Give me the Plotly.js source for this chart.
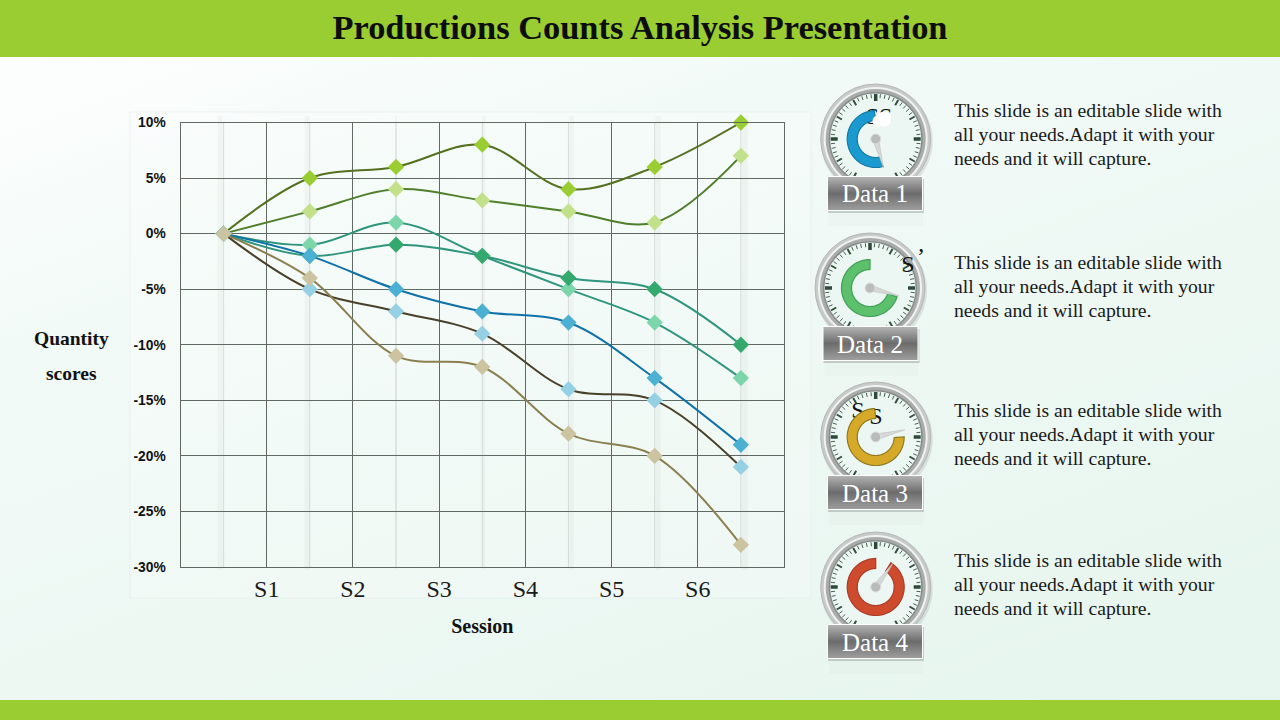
<!DOCTYPE html>
<html>
<head>
<meta charset="utf-8">
<script src="https://cdn.plot.ly/plotly-3.0.1.min.js"></script>
<style>
html,body{margin:0;padding:0;width:1280px;height:720px;overflow:hidden;background:linear-gradient(160deg,#ffffff 0%,#f2faf7 30%,#e6f5ee 100%);}
#chart{width:1280px;height:720px;}
</style>
</head>
<body>
<div id="chart"></div>
<script>
// ---- chart data ----
const sessionTicks = [1, 2, 3, 4, 5, 6];
const sessionLabels = ['S1', 'S2', 'S3', 'S4', 'S5', 'S6'];
const pointX = [0.5, 1.5, 2.5, 3.5, 4.5, 5.5, 6.5];
const yTicks = [10, 5, 0, -5, -10, -15, -20, -25, -30];
const yLabels = ['10%', '5%', '0%', '-5%', '-10%', '-15%', '-20%', '-25%', '-30%'];
const seriesA = [0, 5, 6, 8, 4, 6, 10];
const seriesB = [0, 2, 4, 3, 2, 1, 7];
const seriesC = [0, -1, 1, -2, -5, -8, -13];
const seriesD = [0, -2, -1, -2, -4, -5, -10];
const seriesE = [0, -2, -5, -7, -8, -13, -19];
const seriesF = [0, -5, -7, -9, -14, -15, -21];
const seriesG = [0, -4, -11, -12, -18, -20, -28];
const allSeries = [seriesA, seriesB, seriesC, seriesD, seriesE, seriesF, seriesG];
const lineColors = ['#55701f', '#4f7f2a', '#2f957c', '#2f957c', '#0f72a8', '#4a3f28', '#8c7f4f'];
const markerColors = ['#9acd32', '#c3e08a', '#7dd5aa', '#35a86e', '#4bb0d2', '#96d0e5', '#ccc3a0'];

// ---- dial data ----
const dialNames = ['Data 1', 'Data 2', 'Data 3', 'Data 4'];
const dialCx = [875.7, 870, 875.7, 875.7];
const dialCy = [139, 288, 437, 587];
const dialGapEnd = [165, 108, 90, 32];     // ring runs from here clockwise to the top
const needleAngle = [165, 105, 76, 36];
const ringFill = ['#1b9ad0', '#5dc06c', '#d6aa28', '#cf4b2d'];
const ringEdge = ['#127aa6', '#3f9f55', '#8f7a22', '#a83c28'];
const buttonX0 = [828, 823.5, 828, 828];
const buttonY0 = [177, 327, 476, 625];
const paragraphY = [110, 262, 410, 560];
const paragraphLines = ['This slide is an editable slide with', 'all your needs.Adapt it with your', 'needs and it will capture.'];
const serif = '"Liberation Serif", "DejaVu Serif", serif';

const px = x => x / 1280, py = y => 1 - y / 720;
const shapes = [];
function rect(x0, y0, x1, y1, fill, layer, line) {
  shapes.push({type: 'rect', xref: 'paper', yref: 'paper', x0: px(x0), x1: px(x1), y0: py(y0), y1: py(y1),
    fillcolor: fill, line: line || {width: 0}, layer: layer || 'below'});
}
function circle(cx, cy, r, fill, layer, line) {
  shapes.push({type: 'circle', xref: 'paper', yref: 'paper', x0: px(cx - r), x1: px(cx + r), y0: py(cy + r), y1: py(cy - r),
    fillcolor: fill, line: line || {width: 0}, layer: layer || 'below'});
}
function path(d, fill, line, layer) {
  shapes.push({type: 'path', xref: 'paper', yref: 'paper', path: d, fillcolor: fill, line: line, layer: layer || 'below'});
}
function polar(cx, cy, r, deg) {
  const a = deg * Math.PI / 180;
  return [px(cx + r * Math.sin(a)).toFixed(5), py(cy - r * Math.cos(a)).toFixed(5)].join(',');
}

// page furniture
rect(0, 0, 1280, 57, '#9acd32');
rect(0, 700, 1280, 720, '#9acd32');
rect(130, 112, 811, 598, 'rgba(255,255,255,0.22)', 'below', {color: 'rgba(225,232,228,0.45)', width: 1});

// soft vertical bands behind every point
const bandOffset = [[-0.07, -0.01], [-0.06, 0], [-0.01, 0.01], [0, 0.035], [0.01, 0.06], [0.01, 0.07], [0.01, 0.08]];
pointX.forEach((x, i) => {
  shapes.push({type: 'rect', xref: 'x', yref: 'paper', x0: x + bandOffset[i][0], x1: x + bandOffset[i][1],
    y0: py(570), y1: py(116), fillcolor: 'rgba(190,195,192,0.12)', line: {width: 0}, layer: 'below'});
  shapes.push({type: 'line', xref: 'x', yref: 'paper', x0: x, x1: x, y0: py(567), y1: py(122),
    line: {color: 'rgba(190,190,190,0.5)', width: 1}, layer: 'below'});
});

// dials
dialNames.forEach((name, i) => {
  const cx = dialCx[i], cy = dialCy[i];
  circle(cx + 1, cy + 2, 56, 'rgba(150,160,155,0.25)');
  circle(cx, cy, 55, '#c9cbca', 'below', {color: '#b5b7b6', width: 1});
  circle(cx, cy, 52, '#f1f2f2');
  circle(cx, cy, 50, '#a9acab');
  circle(cx, cy, 47, '#878b8a');
  circle(cx, cy, 45.5, '#ecf7f3');
  let minor = '', mid = '', major = '';
  for (let d = 0; d < 360; d += 6) {
    const seg = 'M' + polar(cx, cy, 45, d) + 'L';
    if (d % 90 === 0) major += seg + polar(cx, cy, 38, d);
    else if (d % 30 === 0) mid += seg + polar(cx, cy, 39, d);
    else minor += seg + polar(cx, cy, 41, d);
  }
  path(minor, 'rgba(0,0,0,0)', {color: '#47604f', width: 1});
  path(mid, 'rgba(0,0,0,0)', {color: '#35503f', width: 2});
  path(major, 'rgba(0,0,0,0)', {color: '#2d4a3a', width: 3.5});

  // ring: clockwise from gap end to twelve o'clock
  let d = '';
  const start = dialGapEnd[i], end = 360;
  for (let a = start; a <= end; a += 4) d += (d ? 'L' : 'M') + polar(cx, cy, 28.5, a);
  for (let a = end; a >= start; a -= 4) d += 'L' + polar(cx, cy, 18.5, a);
  d += 'Z';
  path(d, ringFill[i], {color: ringEdge[i], width: 1.2}, 'above');

  // needle and hub
  const a = needleAngle[i], perp = a + 90;
  path('M' + polar(cx, cy, 3, perp) + 'L' + polar(cx, cy, 30, a) + 'L' + polar(cx, cy, 3, perp + 180) + 'Z',
    '#d6d8d7', {color: '#b8bbba', width: 0.5}, 'above');
  circle(cx, cy, 5, '#b9bcbb', 'above', {color: '#dcdedd', width: 1});

  // button
  const bx = buttonX0[i], by = buttonY0[i], bw = 94, bh = 33;
  rect(bx + 1, by + bh, bx + bw + 1, by + bh + 16, 'rgba(170,185,178,0.05)', 'above');
  rect(bx, by + 2, bx + bw + 2, by + bh + 3, 'rgba(90,100,95,0.28)', 'above');
  rect(bx - 1, by - 1, bx + bw + 1, by + bh + 1, '#ffffff', 'above');
  for (let s = 0; s < bh; s++) {
    const t = s / (bh - 1);
    const v = t < 0.5 ? Math.round(176 - (176 - 108) * (t / 0.5)) : Math.round(108 + (156 - 108) * ((t - 0.5) / 0.5));
    rect(bx, by + s, bx + bw, by + s + 1, 'rgb(' + v + ',' + v + ',' + v + ')', 'above');
  }
});
// white blot on the first dial
circle(884, 119, 7.5, '#ffffff', 'above');
circle(878, 121, 5.5, '#ffffff', 'above');

// traces
const traces = allSeries.map((vals, i) => ({
  x: pointX, y: vals, type: 'scatter', mode: 'lines+markers', cliponaxis: false,
  line: {shape: 'spline', smoothing: 1, color: lineColors[i], width: 2},
  marker: {symbol: 'diamond', size: 12.5, color: markerColors[i], line: {width: 0}},
  hoverinfo: 'skip', showlegend: false
}));
// stray glyphs showing through the dial faces
traces.push({
  x: [879, 908, 921, 858, 876], y: [118, 266, 259, 412, 418],
  text: ['SS', 'S', 'ʼ', 'S', 'S'], xaxis: 'x2', yaxis: 'y2', type: 'scatter', mode: 'text',
  textfont: {family: serif, size: 24, color: '#111111'}, hoverinfo: 'skip', showlegend: false
});

// text
const annotations = [];
function note(text, x, y, size, color, bold, xanchor) {
  annotations.push({text: bold ? '<b>' + text + '</b>' : text, xref: 'paper', yref: 'paper', x: px(x), y: py(y),
    xanchor: xanchor || 'center', yanchor: 'middle', showarrow: false, font: {family: serif, size: size, color: color}, align: xanchor === 'left' ? 'left' : 'center'});
}
note('Quantity', 71.5, 338, 19.5, '#111111', true);
note('scores', 71.5, 373, 19.5, '#111111', true);
dialNames.forEach((name, i) => {
  note(name, buttonX0[i] + 46.5, buttonY0[i] + 17, 25, '#ffffff', false);
  paragraphLines.forEach((ln, k) => note(ln, 952, paragraphY[i] + k * 24, 19.7, '#1a1a1a', false, 'left'));
});

const layout = {
  width: 1280, height: 720, margin: {l: 0, r: 0, t: 0, b: 0},
  paper_bgcolor: 'rgba(0,0,0,0)', plot_bgcolor: 'rgba(0,0,0,0)', showlegend: false,
  title: {text: '<b>Productions Counts Analysis Presentation</b>', x: 0.5, xanchor: 'center', xref: 'paper',
          y: 1 - 27 / 720, yanchor: 'middle', yref: 'paper', font: {family: serif, size: 34.4, color: '#0d0d0d'}},
  xaxis: {domain: [px(180.5), px(784)], range: [0, 7], tickmode: 'array', tickvals: sessionTicks, ticktext: sessionLabels,
    showgrid: true, gridcolor: '#5f6a63', gridwidth: 1, zeroline: false, showline: true, linecolor: '#5f6a63', linewidth: 1, mirror: true,
    ticks: '', tickfont: {family: serif, size: 24, color: '#1a1a1a'},
    title: {text: '<b>Session</b>', standoff: 18, font: {family: serif, size: 20, color: '#111111'}},
    fixedrange: true, anchor: 'y'},
  yaxis: {domain: [py(567), py(122.5)], range: [-30, 10], tickmode: 'array', tickvals: yTicks, ticktext: yLabels,
    showgrid: true, gridcolor: '#5f6a63', gridwidth: 1, zeroline: false, showline: true, linecolor: '#5f6a63', linewidth: 1, mirror: true,
    ticks: 'outside', ticklen: 11, tickcolor: 'rgba(0,0,0,0)',
    tickfont: {family: '"Liberation Sans", Arial, sans-serif', size: 13.8, color: '#111111', weight: 'bold'},
    fixedrange: true, anchor: 'x'},
  xaxis2: {domain: [0, 1], range: [0, 1280], visible: false, anchor: 'y2', fixedrange: true},
  yaxis2: {domain: [0, 1], range: [720, 0], visible: false, anchor: 'x2', fixedrange: true},
  shapes: shapes, annotations: annotations
};
Plotly.newPlot('chart', traces, layout, {displayModeBar: false, staticPlot: true});
</script>
</body>
</html>
